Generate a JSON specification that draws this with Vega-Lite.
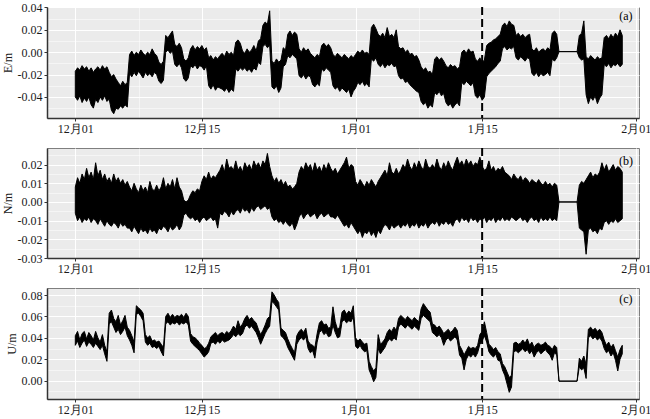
{
"$schema":"https://vega.github.io/schema/vega-lite/v6.json",
"padding":{"left":0,"top":0,"right":0,"bottom":0},
"spacing":11,
"config":{
"font":"Liberation Serif",
"view":{"fill":"#ebebeb","stroke":"#7f7f7f","strokeWidth":1},
"axis":{"labelFont":"Liberation Serif","labelFontSize":12,"labelColor":"#1a1a1a","titleFont":"Liberation Serif","titleFontSize":12,"titleFontWeight":"normal","titleColor":"#1a1a1a","domainColor":"#333333","domainWidth":1.5,"tickColor":"#333333","tickSize":3,"labelPadding":2,"titlePadding":3,"gridColor":"#ffffff","gridWidth":1,"labelOverlap":false,"labelFlush":false}
},
"datasets":{
"marker":[{"day":45}],
"gnss":[
{"day":0,"E_lo":-0.040,"E_hi":-0.017,"N_lo":-0.006,"N_hi":0.008,"U_lo":0.033,"U_hi":0.042},
{"day":0.25,"E_lo":-0.043,"E_hi":-0.014,"N_lo":-0.010,"N_hi":0.013,"U_lo":0.037,"U_hi":0.046},
{"day":0.5,"E_lo":-0.039,"E_hi":-0.016,"N_lo":-0.008,"N_hi":0.010,"U_lo":0.031,"U_hi":0.038},
{"day":0.75,"E_lo":-0.045,"E_hi":-0.012,"N_lo":-0.011,"N_hi":0.015,"U_lo":0.035,"U_hi":0.044},
{"day":1,"E_lo":-0.041,"E_hi":-0.015,"N_lo":-0.009,"N_hi":0.012,"U_lo":0.038,"U_hi":0.046},
{"day":1.25,"E_lo":-0.044,"E_hi":-0.013,"N_lo":-0.010,"N_hi":0.018,"U_lo":0.032,"U_hi":0.039},
{"day":1.5,"E_lo":-0.040,"E_hi":-0.017,"N_lo":-0.008,"N_hi":0.013,"U_lo":0.036,"U_hi":0.045},
{"day":1.75,"E_lo":-0.047,"E_hi":-0.014,"N_lo":-0.011,"N_hi":0.016,"U_lo":0.034,"U_hi":0.042},
{"day":2,"E_lo":-0.050,"E_hi":-0.018,"N_lo":-0.009,"N_hi":0.012,"U_lo":0.031,"U_hi":0.038},
{"day":2.25,"E_lo":-0.042,"E_hi":-0.015,"N_lo":-0.010,"N_hi":0.021,"U_lo":0.035,"U_hi":0.046},
{"day":2.5,"E_lo":-0.045,"E_hi":-0.013,"N_lo":-0.012,"N_hi":0.014,"U_lo":0.032,"U_hi":0.040},
{"day":2.75,"E_lo":-0.040,"E_hi":-0.016,"N_lo":-0.009,"N_hi":0.017,"U_lo":0.029,"U_hi":0.036},
{"day":3,"E_lo":-0.043,"E_hi":-0.012,"N_lo":-0.011,"N_hi":0.012,"U_lo":0.033,"U_hi":0.043},
{"day":3.25,"E_lo":-0.039,"E_hi":-0.015,"N_lo":-0.013,"N_hi":0.015,"U_lo":0.025,"U_hi":0.033},
{"day":3.5,"E_lo":-0.044,"E_hi":-0.013,"N_lo":-0.010,"N_hi":0.011,"U_lo":0.018,"U_hi":0.027},
{"day":3.75,"E_lo":-0.042,"E_hi":-0.018,"N_lo":-0.012,"N_hi":0.013,"U_lo":0.053,"U_hi":0.063},
{"day":4,"E_lo":-0.052,"E_hi":-0.022,"N_lo":-0.013,"N_hi":0.010,"U_lo":0.055,"U_hi":0.066},
{"day":4.25,"E_lo":-0.055,"E_hi":-0.020,"N_lo":-0.011,"N_hi":0.015,"U_lo":0.050,"U_hi":0.058},
{"day":4.5,"E_lo":-0.050,"E_hi":-0.024,"N_lo":-0.012,"N_hi":0.011,"U_lo":0.045,"U_hi":0.055},
{"day":4.75,"E_lo":-0.051,"E_hi":-0.027,"N_lo":-0.014,"N_hi":0.013,"U_lo":0.048,"U_hi":0.061},
{"day":5,"E_lo":-0.048,"E_hi":-0.030,"N_lo":-0.011,"N_hi":0.010,"U_lo":0.043,"U_hi":0.052},
{"day":5.25,"E_lo":-0.050,"E_hi":-0.026,"N_lo":-0.013,"N_hi":0.012,"U_lo":0.046,"U_hi":0.056},
{"day":5.5,"E_lo":-0.047,"E_hi":-0.029,"N_lo":-0.012,"N_hi":0.009,"U_lo":0.050,"U_hi":0.061},
{"day":5.75,"E_lo":-0.049,"E_hi":-0.027,"N_lo":-0.014,"N_hi":0.011,"U_lo":0.042,"U_hi":0.050},
{"day":6,"E_lo":-0.019,"E_hi":-0.002,"N_lo":-0.014,"N_hi":0.008,"U_lo":0.038,"U_hi":0.047},
{"day":6.25,"E_lo":-0.022,"E_hi":0.001,"N_lo":-0.016,"N_hi":0.006,"U_lo":0.033,"U_hi":0.042},
{"day":6.5,"E_lo":-0.018,"E_hi":-0.003,"N_lo":-0.013,"N_hi":0.010,"U_lo":0.026,"U_hi":0.036},
{"day":6.75,"E_lo":-0.021,"E_hi":0.000,"N_lo":-0.015,"N_hi":0.007,"U_lo":0.062,"U_hi":0.070},
{"day":7,"E_lo":-0.017,"E_hi":-0.002,"N_lo":-0.017,"N_hi":0.005,"U_lo":0.063,"U_hi":0.068},
{"day":7.25,"E_lo":-0.020,"E_hi":0.002,"N_lo":-0.014,"N_hi":0.009,"U_lo":0.060,"U_hi":0.066},
{"day":7.5,"E_lo":-0.023,"E_hi":-0.001,"N_lo":-0.016,"N_hi":0.006,"U_lo":0.056,"U_hi":0.063},
{"day":7.75,"E_lo":-0.018,"E_hi":-0.003,"N_lo":-0.015,"N_hi":0.008,"U_lo":0.036,"U_hi":0.043},
{"day":8,"E_lo":-0.021,"E_hi":0.000,"N_lo":-0.017,"N_hi":0.005,"U_lo":0.033,"U_hi":0.040},
{"day":8.25,"E_lo":-0.019,"E_hi":-0.002,"N_lo":-0.014,"N_hi":0.011,"U_lo":0.035,"U_hi":0.042},
{"day":8.5,"E_lo":-0.022,"E_hi":0.003,"N_lo":-0.016,"N_hi":0.007,"U_lo":0.031,"U_hi":0.037},
{"day":8.75,"E_lo":-0.018,"E_hi":-0.001,"N_lo":-0.015,"N_hi":0.006,"U_lo":0.032,"U_hi":0.038},
{"day":9,"E_lo":-0.020,"E_hi":-0.003,"N_lo":-0.017,"N_hi":0.009,"U_lo":0.030,"U_hi":0.036},
{"day":9.25,"E_lo":-0.026,"E_hi":-0.009,"N_lo":-0.014,"N_hi":0.006,"U_lo":0.032,"U_hi":0.037},
{"day":9.5,"E_lo":-0.028,"E_hi":-0.011,"N_lo":-0.015,"N_hi":0.008,"U_lo":0.027,"U_hi":0.034},
{"day":9.75,"E_lo":-0.025,"E_hi":-0.008,"N_lo":-0.013,"N_hi":0.013,"U_lo":0.023,"U_hi":0.031},
{"day":10,"E_lo":0.000,"E_hi":0.015,"N_lo":-0.014,"N_hi":0.007,"U_lo":0.053,"U_hi":0.060},
{"day":10.25,"E_lo":0.002,"E_hi":0.013,"N_lo":-0.016,"N_hi":0.010,"U_lo":0.055,"U_hi":0.063},
{"day":10.5,"E_lo":-0.001,"E_hi":0.016,"N_lo":-0.013,"N_hi":0.008,"U_lo":0.052,"U_hi":0.059},
{"day":10.75,"E_lo":0.001,"E_hi":0.019,"N_lo":-0.015,"N_hi":0.012,"U_lo":0.054,"U_hi":0.062},
{"day":11,"E_lo":-0.011,"E_hi":0.007,"N_lo":-0.014,"N_hi":0.007,"U_lo":0.053,"U_hi":0.059},
{"day":11.25,"E_lo":-0.013,"E_hi":0.005,"N_lo":-0.012,"N_hi":0.013,"U_lo":0.055,"U_hi":0.061},
{"day":11.5,"E_lo":-0.010,"E_hi":0.008,"N_lo":-0.015,"N_hi":0.008,"U_lo":0.052,"U_hi":0.060},
{"day":11.75,"E_lo":-0.014,"E_hi":0.004,"N_lo":-0.013,"N_hi":0.006,"U_lo":0.054,"U_hi":0.062},
{"day":12,"E_lo":-0.024,"E_hi":-0.006,"N_lo":-0.007,"N_hi":0.001,"U_lo":0.053,"U_hi":0.059},
{"day":12.25,"E_lo":-0.026,"E_hi":-0.008,"N_lo":-0.006,"N_hi":0.000,"U_lo":0.055,"U_hi":0.063},
{"day":12.5,"E_lo":-0.023,"E_hi":-0.005,"N_lo":-0.008,"N_hi":0.001,"U_lo":0.052,"U_hi":0.060},
{"day":12.75,"E_lo":-0.012,"E_hi":0.003,"N_lo":-0.009,"N_hi":0.004,"U_lo":0.037,"U_hi":0.044},
{"day":13,"E_lo":-0.014,"E_hi":0.006,"N_lo":-0.008,"N_hi":0.006,"U_lo":0.034,"U_hi":0.041},
{"day":13.25,"E_lo":-0.011,"E_hi":0.002,"N_lo":-0.010,"N_hi":0.005,"U_lo":0.032,"U_hi":0.040},
{"day":13.5,"E_lo":-0.015,"E_hi":0.005,"N_lo":-0.009,"N_hi":0.007,"U_lo":0.030,"U_hi":0.038},
{"day":13.75,"E_lo":-0.012,"E_hi":0.003,"N_lo":-0.011,"N_hi":0.006,"U_lo":0.028,"U_hi":0.035},
{"day":14,"E_lo":-0.013,"E_hi":0.006,"N_lo":-0.009,"N_hi":0.011,"U_lo":0.025,"U_hi":0.033},
{"day":14.25,"E_lo":-0.016,"E_hi":0.002,"N_lo":-0.008,"N_hi":0.014,"U_lo":0.022,"U_hi":0.030},
{"day":14.5,"E_lo":-0.012,"E_hi":0.004,"N_lo":-0.010,"N_hi":0.012,"U_lo":0.024,"U_hi":0.031},
{"day":14.75,"E_lo":-0.030,"E_hi":-0.005,"N_lo":-0.009,"N_hi":0.016,"U_lo":0.027,"U_hi":0.035},
{"day":15,"E_lo":-0.033,"E_hi":-0.003,"N_lo":-0.008,"N_hi":0.012,"U_lo":0.035,"U_hi":0.041},
{"day":15.25,"E_lo":-0.029,"E_hi":-0.007,"N_lo":-0.010,"N_hi":0.014,"U_lo":0.036,"U_hi":0.043},
{"day":15.5,"E_lo":-0.034,"E_hi":-0.004,"N_lo":-0.009,"N_hi":0.013,"U_lo":0.034,"U_hi":0.045},
{"day":15.75,"E_lo":-0.031,"E_hi":-0.006,"N_lo":-0.014,"N_hi":0.015,"U_lo":0.037,"U_hi":0.042},
{"day":16,"E_lo":-0.032,"E_hi":-0.003,"N_lo":-0.006,"N_hi":0.017,"U_lo":0.035,"U_hi":0.044},
{"day":16.25,"E_lo":-0.033,"E_hi":-0.001,"N_lo":-0.007,"N_hi":0.020,"U_lo":0.038,"U_hi":0.045},
{"day":16.5,"E_lo":-0.035,"E_hi":-0.004,"N_lo":-0.005,"N_hi":0.016,"U_lo":0.036,"U_hi":0.043},
{"day":16.75,"E_lo":-0.032,"E_hi":0.001,"N_lo":-0.006,"N_hi":0.023,"U_lo":0.037,"U_hi":0.046},
{"day":17,"E_lo":-0.036,"E_hi":-0.002,"N_lo":-0.008,"N_hi":0.018,"U_lo":0.038,"U_hi":0.044},
{"day":17.25,"E_lo":-0.033,"E_hi":0.000,"N_lo":-0.005,"N_hi":0.019,"U_lo":0.040,"U_hi":0.047},
{"day":17.5,"E_lo":-0.035,"E_hi":-0.003,"N_lo":-0.007,"N_hi":0.017,"U_lo":0.043,"U_hi":0.051},
{"day":17.75,"E_lo":-0.015,"E_hi":0.009,"N_lo":-0.005,"N_hi":0.022,"U_lo":0.041,"U_hi":0.048},
{"day":18,"E_lo":-0.017,"E_hi":0.011,"N_lo":-0.004,"N_hi":0.017,"U_lo":0.044,"U_hi":0.056},
{"day":18.25,"E_lo":-0.014,"E_hi":0.008,"N_lo":-0.006,"N_hi":0.019,"U_lo":0.042,"U_hi":0.050},
{"day":18.5,"E_lo":-0.016,"E_hi":0.001,"N_lo":-0.003,"N_hi":0.016,"U_lo":0.044,"U_hi":0.053},
{"day":18.75,"E_lo":-0.014,"E_hi":-0.001,"N_lo":-0.005,"N_hi":0.021,"U_lo":0.050,"U_hi":0.058},
{"day":19,"E_lo":-0.017,"E_hi":0.003,"N_lo":-0.004,"N_hi":0.018,"U_lo":0.052,"U_hi":0.061},
{"day":19.25,"E_lo":-0.015,"E_hi":0.000,"N_lo":-0.006,"N_hi":0.020,"U_lo":0.049,"U_hi":0.057},
{"day":19.5,"E_lo":-0.018,"E_hi":0.002,"N_lo":-0.003,"N_hi":0.017,"U_lo":0.051,"U_hi":0.059},
{"day":19.75,"E_lo":-0.014,"E_hi":0.006,"N_lo":-0.005,"N_hi":0.022,"U_lo":0.048,"U_hi":0.056},
{"day":20,"E_lo":-0.016,"E_hi":0.001,"N_lo":-0.003,"N_hi":0.019,"U_lo":0.045,"U_hi":0.054},
{"day":20.25,"E_lo":-0.009,"E_hi":0.010,"N_lo":-0.002,"N_hi":0.021,"U_lo":0.040,"U_hi":0.048},
{"day":20.5,"E_lo":-0.011,"E_hi":0.012,"N_lo":-0.004,"N_hi":0.018,"U_lo":0.034,"U_hi":0.043},
{"day":20.75,"E_lo":0.005,"E_hi":0.024,"N_lo":-0.003,"N_hi":0.022,"U_lo":0.039,"U_hi":0.047},
{"day":21,"E_lo":0.007,"E_hi":0.027,"N_lo":-0.002,"N_hi":0.020,"U_lo":0.044,"U_hi":0.052},
{"day":21.25,"E_lo":0.004,"E_hi":0.025,"N_lo":-0.004,"N_hi":0.026,"U_lo":0.048,"U_hi":0.058},
{"day":21.5,"E_lo":0.006,"E_hi":0.037,"N_lo":-0.003,"N_hi":0.019,"U_lo":0.051,"U_hi":0.060},
{"day":21.75,"E_lo":-0.031,"E_hi":-0.008,"N_lo":-0.008,"N_hi":0.014,"U_lo":0.074,"U_hi":0.083},
{"day":22,"E_lo":-0.033,"E_hi":-0.010,"N_lo":-0.010,"N_hi":0.011,"U_lo":0.072,"U_hi":0.080},
{"day":22.25,"E_lo":-0.030,"E_hi":-0.006,"N_lo":-0.009,"N_hi":0.013,"U_lo":0.069,"U_hi":0.076},
{"day":22.5,"E_lo":-0.036,"E_hi":-0.009,"N_lo":-0.011,"N_hi":0.010,"U_lo":0.066,"U_hi":0.073},
{"day":22.75,"E_lo":-0.032,"E_hi":-0.007,"N_lo":-0.010,"N_hi":0.012,"U_lo":0.042,"U_hi":0.049},
{"day":23,"E_lo":-0.013,"E_hi":0.004,"N_lo":-0.012,"N_hi":0.009,"U_lo":0.040,"U_hi":0.047},
{"day":23.25,"E_lo":-0.011,"E_hi":0.002,"N_lo":-0.010,"N_hi":0.011,"U_lo":0.037,"U_hi":0.045},
{"day":23.5,"E_lo":-0.003,"E_hi":0.016,"N_lo":-0.012,"N_hi":0.008,"U_lo":0.031,"U_hi":0.039},
{"day":23.75,"E_lo":-0.005,"E_hi":0.019,"N_lo":-0.013,"N_hi":0.009,"U_lo":0.027,"U_hi":0.034},
{"day":24,"E_lo":-0.002,"E_hi":0.015,"N_lo":-0.011,"N_hi":0.007,"U_lo":0.023,"U_hi":0.030},
{"day":24.25,"E_lo":-0.004,"E_hi":0.018,"N_lo":-0.015,"N_hi":0.008,"U_lo":0.019,"U_hi":0.026},
{"day":24.5,"E_lo":-0.006,"E_hi":0.016,"N_lo":-0.012,"N_hi":0.010,"U_lo":0.034,"U_hi":0.042},
{"day":24.75,"E_lo":-0.021,"E_hi":0.003,"N_lo":-0.008,"N_hi":0.016,"U_lo":0.038,"U_hi":0.046},
{"day":25,"E_lo":-0.023,"E_hi":0.000,"N_lo":-0.006,"N_hi":0.019,"U_lo":0.040,"U_hi":0.048},
{"day":25.25,"E_lo":-0.020,"E_hi":0.004,"N_lo":-0.009,"N_hi":0.017,"U_lo":0.038,"U_hi":0.045},
{"day":25.5,"E_lo":-0.024,"E_hi":0.001,"N_lo":-0.007,"N_hi":0.021,"U_lo":0.041,"U_hi":0.049},
{"day":25.75,"E_lo":-0.021,"E_hi":0.003,"N_lo":-0.006,"N_hi":0.018,"U_lo":0.030,"U_hi":0.037},
{"day":26,"E_lo":-0.022,"E_hi":-0.001,"N_lo":-0.008,"N_hi":0.020,"U_lo":0.026,"U_hi":0.034},
{"day":26.25,"E_lo":-0.029,"E_hi":-0.003,"N_lo":-0.007,"N_hi":0.016,"U_lo":0.028,"U_hi":0.033},
{"day":26.5,"E_lo":-0.031,"E_hi":-0.005,"N_lo":-0.006,"N_hi":0.021,"U_lo":0.021,"U_hi":0.031},
{"day":26.75,"E_lo":-0.028,"E_hi":-0.002,"N_lo":-0.009,"N_hi":0.017,"U_lo":0.036,"U_hi":0.044},
{"day":27,"E_lo":-0.030,"E_hi":-0.004,"N_lo":-0.007,"N_hi":0.019,"U_lo":0.045,"U_hi":0.054},
{"day":27.25,"E_lo":-0.015,"E_hi":0.006,"N_lo":-0.006,"N_hi":0.016,"U_lo":0.047,"U_hi":0.056},
{"day":27.5,"E_lo":-0.017,"E_hi":0.008,"N_lo":-0.008,"N_hi":0.020,"U_lo":0.043,"U_hi":0.052},
{"day":27.75,"E_lo":-0.014,"E_hi":0.005,"N_lo":-0.007,"N_hi":0.017,"U_lo":0.045,"U_hi":0.053},
{"day":28,"E_lo":-0.016,"E_hi":0.007,"N_lo":-0.006,"N_hi":0.021,"U_lo":0.041,"U_hi":0.049},
{"day":28.25,"E_lo":-0.018,"E_hi":0.004,"N_lo":-0.008,"N_hi":0.018,"U_lo":0.042,"U_hi":0.050},
{"day":28.5,"E_lo":-0.030,"E_hi":-0.002,"N_lo":-0.008,"N_hi":0.016,"U_lo":0.052,"U_hi":0.069},
{"day":28.75,"E_lo":-0.033,"E_hi":-0.004,"N_lo":-0.009,"N_hi":0.018,"U_lo":0.045,"U_hi":0.055},
{"day":29,"E_lo":-0.031,"E_hi":-0.001,"N_lo":-0.007,"N_hi":0.015,"U_lo":0.040,"U_hi":0.048},
{"day":29.25,"E_lo":-0.035,"E_hi":-0.003,"N_lo":-0.009,"N_hi":0.017,"U_lo":0.041,"U_hi":0.050},
{"day":29.5,"E_lo":-0.032,"E_hi":-0.005,"N_lo":-0.011,"N_hi":0.019,"U_lo":0.055,"U_hi":0.064},
{"day":29.75,"E_lo":-0.034,"E_hi":-0.002,"N_lo":-0.013,"N_hi":0.021,"U_lo":0.057,"U_hi":0.066},
{"day":30,"E_lo":-0.036,"E_hi":-0.004,"N_lo":-0.012,"N_hi":0.024,"U_lo":0.054,"U_hi":0.062},
{"day":30.25,"E_lo":-0.033,"E_hi":-0.006,"N_lo":-0.014,"N_hi":0.018,"U_lo":0.056,"U_hi":0.065},
{"day":30.5,"E_lo":-0.040,"E_hi":-0.003,"N_lo":-0.011,"N_hi":0.020,"U_lo":0.055,"U_hi":0.063},
{"day":30.75,"E_lo":-0.035,"E_hi":-0.005,"N_lo":-0.013,"N_hi":0.019,"U_lo":0.060,"U_hi":0.070},
{"day":31,"E_lo":-0.032,"E_hi":-0.002,"N_lo":-0.015,"N_hi":0.011,"U_lo":0.032,"U_hi":0.040},
{"day":31.25,"E_lo":-0.027,"E_hi":0.001,"N_lo":-0.017,"N_hi":0.009,"U_lo":0.030,"U_hi":0.037},
{"day":31.5,"E_lo":-0.029,"E_hi":-0.001,"N_lo":-0.015,"N_hi":0.012,"U_lo":0.033,"U_hi":0.039},
{"day":31.75,"E_lo":-0.026,"E_hi":0.002,"N_lo":-0.019,"N_hi":0.010,"U_lo":0.029,"U_hi":0.036},
{"day":32,"E_lo":-0.030,"E_hi":-0.001,"N_lo":-0.016,"N_hi":0.008,"U_lo":0.027,"U_hi":0.034},
{"day":32.25,"E_lo":-0.028,"E_hi":0.000,"N_lo":-0.017,"N_hi":0.011,"U_lo":0.028,"U_hi":0.035},
{"day":32.5,"E_lo":-0.031,"E_hi":-0.002,"N_lo":-0.015,"N_hi":0.009,"U_lo":0.010,"U_hi":0.018},
{"day":32.75,"E_lo":-0.006,"E_hi":0.022,"N_lo":-0.018,"N_hi":0.012,"U_lo":0.005,"U_hi":0.013},
{"day":33,"E_lo":-0.008,"E_hi":0.025,"N_lo":-0.016,"N_hi":0.010,"U_lo":-0.001,"U_hi":0.009},
{"day":33.25,"E_lo":-0.005,"E_hi":0.021,"N_lo":-0.019,"N_hi":0.008,"U_lo":0.003,"U_hi":0.012},
{"day":33.5,"E_lo":-0.011,"E_hi":0.016,"N_lo":-0.015,"N_hi":0.011,"U_lo":0.030,"U_hi":0.043},
{"day":33.75,"E_lo":-0.013,"E_hi":0.014,"N_lo":-0.017,"N_hi":0.013,"U_lo":0.025,"U_hi":0.034},
{"day":34,"E_lo":-0.010,"E_hi":0.017,"N_lo":-0.014,"N_hi":0.015,"U_lo":0.028,"U_hi":0.036},
{"day":34.25,"E_lo":-0.014,"E_hi":0.013,"N_lo":-0.012,"N_hi":0.017,"U_lo":0.031,"U_hi":0.039},
{"day":34.5,"E_lo":-0.011,"E_hi":0.022,"N_lo":-0.013,"N_hi":0.014,"U_lo":0.036,"U_hi":0.045},
{"day":34.75,"E_lo":-0.012,"E_hi":0.014,"N_lo":-0.015,"N_hi":0.021,"U_lo":0.039,"U_hi":0.048},
{"day":35,"E_lo":-0.010,"E_hi":0.016,"N_lo":-0.012,"N_hi":0.016,"U_lo":0.037,"U_hi":0.046},
{"day":35.25,"E_lo":-0.013,"E_hi":0.013,"N_lo":-0.014,"N_hi":0.015,"U_lo":0.040,"U_hi":0.050},
{"day":35.5,"E_lo":-0.012,"E_hi":0.020,"N_lo":-0.013,"N_hi":0.018,"U_lo":0.038,"U_hi":0.047},
{"day":35.75,"E_lo":-0.021,"E_hi":0.005,"N_lo":-0.012,"N_hi":0.015,"U_lo":0.050,"U_hi":0.058},
{"day":36,"E_lo":-0.024,"E_hi":0.003,"N_lo":-0.014,"N_hi":0.017,"U_lo":0.053,"U_hi":0.061},
{"day":36.25,"E_lo":-0.023,"E_hi":0.004,"N_lo":-0.012,"N_hi":0.020,"U_lo":0.051,"U_hi":0.059},
{"day":36.5,"E_lo":-0.027,"E_hi":0.000,"N_lo":-0.013,"N_hi":0.018,"U_lo":0.049,"U_hi":0.057},
{"day":36.75,"E_lo":-0.026,"E_hi":0.002,"N_lo":-0.011,"N_hi":0.023,"U_lo":0.052,"U_hi":0.060},
{"day":37,"E_lo":-0.029,"E_hi":-0.002,"N_lo":-0.014,"N_hi":0.019,"U_lo":0.050,"U_hi":0.058},
{"day":37.25,"E_lo":-0.031,"E_hi":-0.001,"N_lo":-0.012,"N_hi":0.017,"U_lo":0.048,"U_hi":0.056},
{"day":37.5,"E_lo":-0.033,"E_hi":-0.004,"N_lo":-0.013,"N_hi":0.021,"U_lo":0.051,"U_hi":0.059},
{"day":37.75,"E_lo":-0.035,"E_hi":-0.003,"N_lo":-0.011,"N_hi":0.018,"U_lo":0.049,"U_hi":0.057},
{"day":38,"E_lo":-0.036,"E_hi":-0.007,"N_lo":-0.014,"N_hi":0.022,"U_lo":0.047,"U_hi":0.055},
{"day":38.25,"E_lo":-0.044,"E_hi":-0.013,"N_lo":-0.012,"N_hi":0.019,"U_lo":0.058,"U_hi":0.067},
{"day":38.5,"E_lo":-0.047,"E_hi":-0.016,"N_lo":-0.013,"N_hi":0.017,"U_lo":0.061,"U_hi":0.072},
{"day":38.75,"E_lo":-0.045,"E_hi":-0.014,"N_lo":-0.011,"N_hi":0.023,"U_lo":0.059,"U_hi":0.069},
{"day":39,"E_lo":-0.050,"E_hi":-0.018,"N_lo":-0.014,"N_hi":0.019,"U_lo":0.057,"U_hi":0.066},
{"day":39.25,"E_lo":-0.047,"E_hi":-0.017,"N_lo":-0.012,"N_hi":0.018,"U_lo":0.055,"U_hi":0.064},
{"day":39.5,"E_lo":-0.049,"E_hi":-0.020,"N_lo":-0.011,"N_hi":0.020,"U_lo":0.045,"U_hi":0.053},
{"day":39.75,"E_lo":-0.036,"E_hi":-0.006,"N_lo":-0.012,"N_hi":0.018,"U_lo":0.043,"U_hi":0.052},
{"day":40,"E_lo":-0.038,"E_hi":-0.004,"N_lo":-0.010,"N_hi":0.023,"U_lo":0.041,"U_hi":0.049},
{"day":40.25,"E_lo":-0.035,"E_hi":-0.007,"N_lo":-0.013,"N_hi":0.019,"U_lo":0.043,"U_hi":0.051},
{"day":40.5,"E_lo":-0.039,"E_hi":-0.005,"N_lo":-0.011,"N_hi":0.017,"U_lo":0.040,"U_hi":0.048},
{"day":40.75,"E_lo":-0.037,"E_hi":-0.008,"N_lo":-0.012,"N_hi":0.021,"U_lo":0.033,"U_hi":0.044},
{"day":41,"E_lo":-0.045,"E_hi":-0.012,"N_lo":-0.010,"N_hi":0.018,"U_lo":0.038,"U_hi":0.046},
{"day":41.25,"E_lo":-0.048,"E_hi":-0.014,"N_lo":-0.012,"N_hi":0.022,"U_lo":0.040,"U_hi":0.048},
{"day":41.5,"E_lo":-0.046,"E_hi":-0.011,"N_lo":-0.011,"N_hi":0.019,"U_lo":0.037,"U_hi":0.045},
{"day":41.75,"E_lo":-0.050,"E_hi":-0.013,"N_lo":-0.013,"N_hi":0.017,"U_lo":0.039,"U_hi":0.047},
{"day":42,"E_lo":-0.047,"E_hi":-0.012,"N_lo":-0.010,"N_hi":0.021,"U_lo":0.041,"U_hi":0.050},
{"day":42.25,"E_lo":-0.045,"E_hi":-0.015,"N_lo":-0.009,"N_hi":0.024,"U_lo":0.038,"U_hi":0.047},
{"day":42.5,"E_lo":-0.048,"E_hi":-0.013,"N_lo":-0.011,"N_hi":0.020,"U_lo":0.024,"U_hi":0.033},
{"day":42.75,"E_lo":-0.027,"E_hi":0.000,"N_lo":-0.008,"N_hi":0.022,"U_lo":0.021,"U_hi":0.029},
{"day":43,"E_lo":-0.029,"E_hi":0.002,"N_lo":-0.010,"N_hi":0.019,"U_lo":0.010,"U_hi":0.024},
{"day":43.25,"E_lo":-0.026,"E_hi":-0.001,"N_lo":-0.009,"N_hi":0.023,"U_lo":0.020,"U_hi":0.028},
{"day":43.5,"E_lo":-0.028,"E_hi":0.003,"N_lo":-0.011,"N_hi":0.020,"U_lo":0.024,"U_hi":0.032},
{"day":43.75,"E_lo":-0.030,"E_hi":0.000,"N_lo":-0.008,"N_hi":0.022,"U_lo":0.022,"U_hi":0.030},
{"day":44,"E_lo":-0.027,"E_hi":0.001,"N_lo":-0.010,"N_hi":0.019,"U_lo":0.025,"U_hi":0.031},
{"day":44.25,"E_lo":-0.039,"E_hi":-0.006,"N_lo":-0.009,"N_hi":0.021,"U_lo":0.022,"U_hi":0.030},
{"day":44.5,"E_lo":-0.041,"E_hi":-0.008,"N_lo":-0.011,"N_hi":0.020,"U_lo":0.026,"U_hi":0.033},
{"day":44.75,"E_lo":-0.038,"E_hi":-0.005,"N_lo":-0.009,"N_hi":0.024,"U_lo":0.034,"U_hi":0.043},
{"day":45,"E_lo":-0.043,"E_hi":-0.009,"N_lo":-0.010,"N_hi":0.019,"U_lo":0.037,"U_hi":0.046},
{"day":45.25,"E_lo":-0.040,"E_hi":-0.007,"N_lo":-0.008,"N_hi":0.017,"U_lo":0.042,"U_hi":0.055},
{"day":45.5,"E_lo":-0.022,"E_hi":0.006,"N_lo":-0.011,"N_hi":0.018,"U_lo":0.036,"U_hi":0.045},
{"day":45.75,"E_lo":-0.019,"E_hi":0.008,"N_lo":-0.009,"N_hi":0.022,"U_lo":0.027,"U_hi":0.034},
{"day":46,"E_lo":-0.017,"E_hi":0.009,"N_lo":-0.010,"N_hi":0.017,"U_lo":0.024,"U_hi":0.032},
{"day":46.25,"E_lo":-0.015,"E_hi":0.011,"N_lo":-0.008,"N_hi":0.019,"U_lo":0.022,"U_hi":0.029},
{"day":46.5,"E_lo":-0.013,"E_hi":0.012,"N_lo":-0.011,"N_hi":0.016,"U_lo":0.025,"U_hi":0.031},
{"day":46.75,"E_lo":-0.010,"E_hi":0.014,"N_lo":-0.009,"N_hi":0.018,"U_lo":0.019,"U_hi":0.027},
{"day":47,"E_lo":-0.008,"E_hi":0.016,"N_lo":-0.010,"N_hi":0.017,"U_lo":0.018,"U_hi":0.025},
{"day":47.25,"E_lo":0.003,"E_hi":0.024,"N_lo":-0.008,"N_hi":0.019,"U_lo":0.010,"U_hi":0.016},
{"day":47.5,"E_lo":0.005,"E_hi":0.026,"N_lo":-0.010,"N_hi":0.016,"U_lo":0.005,"U_hi":0.013},
{"day":47.75,"E_lo":0.002,"E_hi":0.023,"N_lo":-0.009,"N_hi":0.015,"U_lo":-0.003,"U_hi":0.008},
{"day":48,"E_lo":0.004,"E_hi":0.028,"N_lo":-0.010,"N_hi":0.014,"U_lo":-0.011,"U_hi":0.003},
{"day":48.25,"E_lo":0.003,"E_hi":0.025,"N_lo":-0.008,"N_hi":0.012,"U_lo":-0.006,"U_hi":0.005},
{"day":48.5,"E_lo":0.005,"E_hi":0.024,"N_lo":-0.009,"N_hi":0.015,"U_lo":0.027,"U_hi":0.035},
{"day":48.75,"E_lo":-0.005,"E_hi":0.015,"N_lo":-0.010,"N_hi":0.013,"U_lo":0.028,"U_hi":0.036},
{"day":49,"E_lo":-0.007,"E_hi":0.017,"N_lo":-0.009,"N_hi":0.012,"U_lo":0.026,"U_hi":0.034},
{"day":49.25,"E_lo":-0.004,"E_hi":0.014,"N_lo":-0.008,"N_hi":0.014,"U_lo":0.028,"U_hi":0.035},
{"day":49.5,"E_lo":-0.006,"E_hi":0.016,"N_lo":-0.010,"N_hi":0.011,"U_lo":0.030,"U_hi":0.038},
{"day":49.75,"E_lo":-0.008,"E_hi":0.013,"N_lo":-0.009,"N_hi":0.013,"U_lo":0.027,"U_hi":0.035},
{"day":50,"E_lo":-0.005,"E_hi":0.015,"N_lo":-0.011,"N_hi":0.012,"U_lo":0.029,"U_hi":0.039},
{"day":50.25,"E_lo":-0.006,"E_hi":0.016,"N_lo":-0.009,"N_hi":0.010,"U_lo":0.025,"U_hi":0.033},
{"day":50.5,"E_lo":-0.019,"E_hi":0.003,"N_lo":-0.008,"N_hi":0.012,"U_lo":0.028,"U_hi":0.036},
{"day":50.75,"E_lo":-0.021,"E_hi":0.001,"N_lo":-0.010,"N_hi":0.011,"U_lo":0.022,"U_hi":0.031},
{"day":51,"E_lo":-0.018,"E_hi":0.004,"N_lo":-0.009,"N_hi":0.010,"U_lo":0.026,"U_hi":0.034},
{"day":51.25,"E_lo":-0.022,"E_hi":0.000,"N_lo":-0.011,"N_hi":0.012,"U_lo":0.028,"U_hi":0.035},
{"day":51.5,"E_lo":-0.019,"E_hi":0.002,"N_lo":-0.008,"N_hi":0.010,"U_lo":0.025,"U_hi":0.033},
{"day":51.75,"E_lo":-0.021,"E_hi":0.003,"N_lo":-0.010,"N_hi":0.009,"U_lo":0.027,"U_hi":0.034},
{"day":52,"E_lo":-0.020,"E_hi":0.001,"N_lo":-0.009,"N_hi":0.011,"U_lo":0.029,"U_hi":0.036},
{"day":52.25,"E_lo":-0.018,"E_hi":0.004,"N_lo":-0.010,"N_hi":0.009,"U_lo":0.026,"U_hi":0.033},
{"day":52.5,"E_lo":-0.021,"E_hi":0.002,"N_lo":-0.008,"N_hi":0.010,"U_lo":0.024,"U_hi":0.032},
{"day":52.75,"E_lo":-0.006,"E_hi":0.017,"N_lo":-0.010,"N_hi":0.008,"U_lo":0.019,"U_hi":0.029},
{"day":53,"E_lo":-0.008,"E_hi":0.019,"N_lo":-0.009,"N_hi":0.010,"U_lo":0.026,"U_hi":0.033},
{"day":53.25,"E_lo":-0.005,"E_hi":0.016,"N_lo":-0.010,"N_hi":0.009,"U_lo":0.024,"U_hi":0.031},
{"day":53.5,"E_lo":0.0005,"E_hi":0.0005,"N_lo":0,"N_hi":0,"U_lo":-0.0005,"U_hi":-0.0005},
{"day":55.5,"E_lo":0.0005,"E_hi":0.0005,"N_lo":0,"N_hi":0,"U_lo":-0.0005,"U_hi":-0.0005},
{"day":55.75,"E_lo":-0.005,"E_hi":0.015,"N_lo":-0.014,"N_hi":0.009,"U_lo":0.013,"U_hi":0.021},
{"day":56,"E_lo":-0.007,"E_hi":0.017,"N_lo":-0.015,"N_hi":0.011,"U_lo":0.010,"U_hi":0.018},
{"day":56.25,"E_lo":-0.006,"E_hi":0.028,"N_lo":-0.016,"N_hi":0.010,"U_lo":0.012,"U_hi":0.023},
{"day":56.5,"E_lo":-0.038,"E_hi":-0.004,"N_lo":-0.028,"N_hi":0.012,"U_lo":0.002,"U_hi":0.015},
{"day":56.75,"E_lo":-0.046,"E_hi":-0.006,"N_lo":-0.015,"N_hi":0.014,"U_lo":0.040,"U_hi":0.048},
{"day":57,"E_lo":-0.040,"E_hi":-0.003,"N_lo":-0.014,"N_hi":0.016,"U_lo":0.042,"U_hi":0.050},
{"day":57.25,"E_lo":-0.043,"E_hi":-0.005,"N_lo":-0.016,"N_hi":0.013,"U_lo":0.039,"U_hi":0.047},
{"day":57.5,"E_lo":-0.039,"E_hi":-0.007,"N_lo":-0.015,"N_hi":0.015,"U_lo":0.041,"U_hi":0.049},
{"day":57.75,"E_lo":-0.046,"E_hi":-0.004,"N_lo":-0.017,"N_hi":0.014,"U_lo":0.038,"U_hi":0.046},
{"day":58,"E_lo":-0.041,"E_hi":-0.006,"N_lo":-0.014,"N_hi":0.016,"U_lo":0.040,"U_hi":0.048},
{"day":58.25,"E_lo":-0.038,"E_hi":-0.005,"N_lo":-0.015,"N_hi":0.021,"U_lo":0.037,"U_hi":0.045},
{"day":58.5,"E_lo":-0.011,"E_hi":0.013,"N_lo":-0.011,"N_hi":0.017,"U_lo":0.030,"U_hi":0.038},
{"day":58.75,"E_lo":-0.013,"E_hi":0.015,"N_lo":-0.010,"N_hi":0.020,"U_lo":0.026,"U_hi":0.033},
{"day":59,"E_lo":-0.010,"E_hi":0.012,"N_lo":-0.012,"N_hi":0.016,"U_lo":0.028,"U_hi":0.036},
{"day":59.25,"E_lo":-0.014,"E_hi":0.016,"N_lo":-0.010,"N_hi":0.018,"U_lo":0.023,"U_hi":0.031},
{"day":59.5,"E_lo":-0.011,"E_hi":0.013,"N_lo":-0.011,"N_hi":0.020,"U_lo":0.026,"U_hi":0.034},
{"day":59.75,"E_lo":-0.012,"E_hi":0.017,"N_lo":-0.009,"N_hi":0.017,"U_lo":0.019,"U_hi":0.028},
{"day":60,"E_lo":-0.010,"E_hi":0.014,"N_lo":-0.011,"N_hi":0.019,"U_lo":0.009,"U_hi":0.022},
{"day":60.25,"E_lo":-0.013,"E_hi":0.020,"N_lo":-0.010,"N_hi":0.018,"U_lo":0.020,"U_hi":0.029},
{"day":60.5,"E_lo":-0.011,"E_hi":0.015,"N_lo":-0.009,"N_hi":0.016,"U_lo":0.025,"U_hi":0.033}
]
},
"vconcat":[
{
"width":592,"height":111,
"resolve":{"axis":{"x":"independent","y":"independent"}},
"layer":[
{"data":{"name":"gnss"},"mark":{"type":"area","fill":"#000000","stroke":"#000000","strokeWidth":1},
"encoding":{
"x":{"field":"day","type":"quantitative","scale":{"domain":[-3.13,62.35],"nice":false,"zero":false},
"axis":{"title":null,"orient":"bottom","values":[0,14,31,45,62],"labelExpr":"datum.value==0?'12月01':datum.value==14?'12月15':datum.value==31?'1月01':datum.value==45?'1月15':'2月01'","grid":true}},
"y":{"field":"E_hi","type":"quantitative","title":"E/m","scale":{"domain":[-0.0588,0.0404],"nice":false,"zero":false},
"axis":{"orient":"left","values":[-0.04,-0.02,0,0.02,0.04],"format":".2f","labelExpr":"replace(datum.label,'\u2212','-')","grid":true}},
"y2":{"field":"E_lo"}
}},
{"data":{"name":"marker"},"mark":{"type":"rule","color":"#000000","strokeWidth":2,"strokeDash":[8,4]},"encoding":{"x":{"field":"day","type":"quantitative","axis":null}}},
{"data":{"values":[{"panel":"(a)"}]},"mark":{"type":"text","font":"Liberation Serif","fontSize":12,"color":"#000000"},
"encoding":{
"x":{"datum":60.9,"type":"quantitative","axis":{"orient":"bottom","title":null,"values":[7,22.5,38,53.5],"grid":true,"gridWidth":0.5,"labels":false,"ticks":false,"domain":false,"minExtent":0,"maxExtent":0}},
"y":{"datum":0.0325,"type":"quantitative","axis":{"orient":"left","title":null,"values":[-0.05,-0.03,-0.01,0.01,0.03],"grid":true,"gridWidth":0.5,"labels":false,"ticks":false,"domain":false,"minExtent":0,"maxExtent":0}},
"text":{"field":"panel"}}}
]
},
{
"width":592,"height":110,
"resolve":{"axis":{"x":"independent","y":"independent"}},
"layer":[
{"data":{"name":"gnss"},"mark":{"type":"area","fill":"#000000","stroke":"#000000","strokeWidth":1},
"encoding":{
"x":{"field":"day","type":"quantitative","scale":{"domain":[-3.13,62.35],"nice":false,"zero":false},
"axis":{"title":null,"orient":"bottom","values":[0,14,31,45,62],"labelExpr":"datum.value==0?'12月01':datum.value==14?'12月15':datum.value==31?'1月01':datum.value==45?'1月15':'2月01'","grid":true}},
"y":{"field":"N_hi","type":"quantitative","title":"N/m","scale":{"domain":[-0.03,0.0289],"nice":false,"zero":false},
"axis":{"orient":"left","values":[-0.03,-0.02,-0.01,0,0.01,0.02],"format":".2f","labelExpr":"replace(datum.label,'\u2212','-')","grid":true}},
"y2":{"field":"N_lo"}
}},
{"data":{"name":"marker"},"mark":{"type":"rule","color":"#000000","strokeWidth":2,"strokeDash":[8,4]},"encoding":{"x":{"field":"day","type":"quantitative","axis":null}}},
{"data":{"values":[{"panel":"(b)"}]},"mark":{"type":"text","font":"Liberation Serif","fontSize":12,"color":"#000000"},
"encoding":{
"x":{"datum":60.9,"type":"quantitative","axis":{"orient":"bottom","title":null,"values":[7,22.5,38,53.5],"grid":true,"gridWidth":0.5,"labels":false,"ticks":false,"domain":false,"minExtent":0,"maxExtent":0}},
"y":{"datum":0.0218,"type":"quantitative","axis":{"orient":"left","title":null,"values":[-0.025,-0.015,-0.005,0.005,0.015,0.025],"grid":true,"gridWidth":0.5,"labels":false,"ticks":false,"domain":false,"minExtent":0,"maxExtent":0}},
"text":{"field":"panel"}}}
]
},
{
"width":592,"height":111,
"resolve":{"axis":{"x":"independent","y":"independent"}},
"layer":[
{"data":{"name":"gnss"},"mark":{"type":"area","fill":"#000000","stroke":"#000000","strokeWidth":1},
"encoding":{
"x":{"field":"day","type":"quantitative","scale":{"domain":[-3.13,62.35],"nice":false,"zero":false},
"axis":{"title":null,"orient":"bottom","values":[0,14,31,45,62],"labelExpr":"datum.value==0?'12月01':datum.value==14?'12月15':datum.value==31?'1月01':datum.value==45?'1月15':'2月01'","grid":true}},
"y":{"field":"U_hi","type":"quantitative","title":"U/m","scale":{"domain":[-0.0172,0.0866],"nice":false,"zero":false},
"axis":{"orient":"left","values":[0,0.02,0.04,0.06,0.08],"format":".2f","labelExpr":"replace(datum.label,'\u2212','-')","grid":true}},
"y2":{"field":"U_lo"}
}},
{"data":{"name":"marker"},"mark":{"type":"rule","color":"#000000","strokeWidth":2,"strokeDash":[8,4]},"encoding":{"x":{"field":"day","type":"quantitative","axis":null}}},
{"data":{"values":[{"panel":"(c)"}]},"mark":{"type":"text","font":"Liberation Serif","fontSize":12,"color":"#000000"},
"encoding":{
"x":{"datum":60.9,"type":"quantitative","axis":{"orient":"bottom","title":null,"values":[7,22.5,38,53.5],"grid":true,"gridWidth":0.5,"labels":false,"ticks":false,"domain":false,"minExtent":0,"maxExtent":0}},
"y":{"datum":0.076,"type":"quantitative","axis":{"orient":"left","title":null,"values":[-0.01,0.01,0.03,0.05,0.07],"grid":true,"gridWidth":0.5,"labels":false,"ticks":false,"domain":false,"minExtent":0,"maxExtent":0}},
"text":{"field":"panel"}}}
]
}
]
}
